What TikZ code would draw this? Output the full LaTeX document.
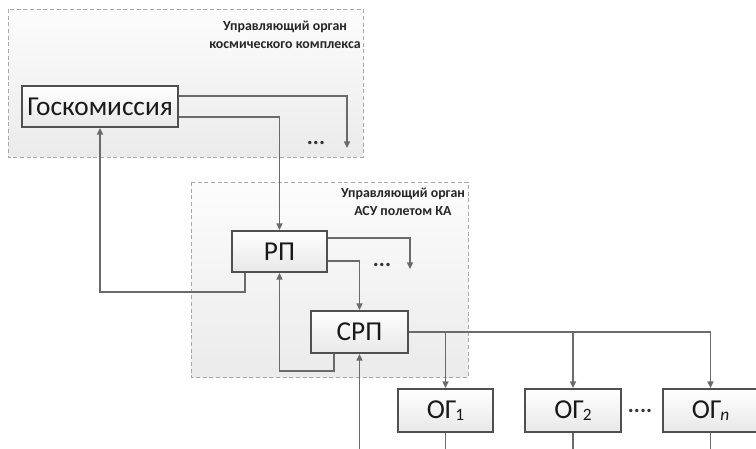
\documentclass[tikz,border=0pt]{standalone}
\usepackage{fontspec}
\setmainfont{Carlito}
\usetikzlibrary{arrows.meta,calc}
\definecolor{boxline}{HTML}{505050}
\definecolor{connc}{HTML}{6A6A6A}
\definecolor{regline}{HTML}{A8A8A8}
\newcommand{\subn}[1]{{\kern-1pt\fontsize{13}{13}\selectfont\raisebox{-1pt}{#1}}}
\tikzset{
 blk/.style={draw=boxline, line width=1.4pt, top color=white, bottom color=black!9, inner sep=0pt, font=\fontsize{20.5}{20.5}\selectfont, text=black!90},
 region/.style={draw=regline, dash pattern=on 3pt off 2pt, line width=0.6pt, top color=black!1, bottom color=black!8},
 conn/.style={draw=connc, line width=1pt},
 arr/.style={conn, -{Triangle[width=4.5pt,length=5pt]}},
 lbl/.style={font=\bfseries\fontsize{10.4}{13.5}\selectfont, align=center, text=black!85},
 dotsty/.style={font=\bfseries\fontsize{17}{17}\selectfont, text=black!80, inner sep=0pt}
}
\begin{document}
\begin{tikzpicture}[x=0.75pt,y=-0.75pt]
\useasboundingbox (0,0) rectangle (756,449);
\clip (0,0) rectangle (756,449);
\fill[white] (0,0) rectangle (756,449);
% regions
\path[region] (8,9) rectangle (363,157);
\path[region] (191,182) rectangle (468,377);
\node[lbl] (l1) at (285,35) {Управляющий орган\\космического комплекса};
\node[lbl] (l2) at (403,202) {Управляющий орган\\АСУ полетом КА};
% blocks
\node[blk, minimum width=117pt, minimum height=30.75pt] (gk) at (100,106.5) {Госкомиссия};
\node[blk, minimum width=71.25pt, minimum height=30.75pt] (rp) at (279.5,251.5) {РП};
\node[blk, minimum width=72.75pt, minimum height=31.5pt] (srp) at (359.5,332) {СРП};
\node[blk, minimum width=71.25pt, minimum height=32.25pt] (og1) at (445.5,410.5) {ОГ\subn{1}};
\node[blk, minimum width=72pt, minimum height=32.25pt] (og2) at (573,410.5) {ОГ\subn{2}};
\node[blk, minimum width=71.25pt, minimum height=32.25pt] (ogn) at (710.5,410.5) {ОГ\subn{\itshape n}};
% dots
\node[dotsty] (d1) at (316,143) {...};
\node[dotsty] (d2) at (382,265) {...};
\node[dotsty] (d3) at (640,411) {....};
% free ends
\coordinate (e1) at (347,148);
\coordinate (e2) at (410,269);
\coordinate (c1) at (245,292);
\coordinate (c3) at (334,371);
\coordinate (b1) at (359.5,455);
% connectors
\draw[arr] ($(gk.east)+(0,-10.5)$) -| (e1);
\draw[arr] ($(gk.east)+(0,10.5)$) -| (rp.north);
\draw[arr] ($(rp.east)+(0,-13.5)$) -| (e2);
\draw[arr] ($(rp.east)+(0,9.5)$) -| (srp.north);
\draw[arr] (c1 |- rp.south) -- (c1) -| (gk.south);
\draw[arr] (c3 |- srp.south) -- (c3) -| (rp.south);
\draw[arr] (b1) -- (srp.south);
\draw[arr] (srp.east) -| (og1.north);
\draw[arr] (srp.east) -| (og2.north);
\draw[arr] (srp.east) -| (ogn.north);
\draw[conn] (og1.south) -- (og1.south |- b1);
\draw[conn] (og2.south) -- (og2.south |- b1);
\draw[conn] (ogn.south) -- (ogn.south |- b1);
\end{tikzpicture}
\end{document}
